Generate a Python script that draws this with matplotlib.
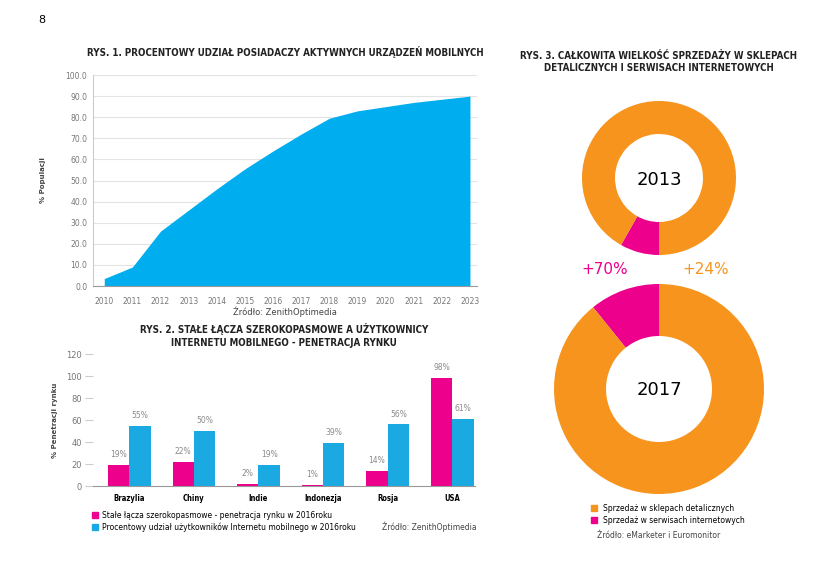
import matplotlib.pyplot as plt
import matplotlib.patches as mpatches

# Rys. 1 - area chart
years = list(range(2010, 2024))
share = [3.5, 9, 26, 36, 46, 55.5, 64, 72, 79.5, 83, 85, 87, 88.5, 90]

# Rys. 2 - grouped bars
countries = ['Brazylia', 'Chiny', 'Indie', 'Indonezja', 'Rosja', 'USA']
fixed = [19, 22, 2, 1, 14, 98]
mobile = [55, 50, 19, 39, 56, 61]
fixed_labels = ['19%', '22%', '2%', '1%', '14%', '98%']
mobile_labels = ['55%', '50%', '19%', '39%', '56%', '61%']

# Rys. 3 - donuts (pink share, orange share)
donut_2013 = [8.2, 91.8]
donut_2017 = [10.8, 89.2]

BLUE = '#00AEEF'
BAR_BLUE = '#1BA9E1'
PINK = '#EC008C'
ORANGE = '#F7941D'
GRAY = '#8a8a8a'
TITLE = dict(fontsize=7, fontweight='bold', fontstretch='condensed', color='#222222')

W, H = 826, 578
fig = plt.figure(figsize=(W / 100, H / 100), dpi=100)

def px_axes(x0, y0, x1, y1):
    # pixel box (top-left origin) -> axes
    return fig.add_axes([x0 / W, 1 - y1 / H, (x1 - x0) / W, (y1 - y0) / H])

fig.text(38 / W, 1 - 20 / H, '8', fontsize=8, va='center')

# ---- area chart
ax1 = px_axes(93, 75, 477, 286)
ax1.fill_between(years, share, color=BLUE, lw=0)
ax1.set_xlim(2009.6, 2023.25)
ax1.set_ylim(0, 100)
ax1.set_yticks(range(0, 101, 10))
ax1.set_yticklabels([f'{v:.1f}' for v in range(0, 101, 10)])
ax1.set_xticks(years)
ax1.grid(axis='y', color='#e3e3e3', lw=0.8)
ax1.set_axisbelow(True)
for s in ['top', 'right']:
    ax1.spines[s].set_visible(False)
ax1.spines['left'].set_color('#cccccc')
ax1.spines['bottom'].set_color('#999999')
ax1.tick_params(length=0, labelsize=5.5, labelcolor='#777777', pad=4)
ax1.tick_params(axis='x', pad=8)
ax1.set_ylabel('% Populacji', fontsize=5, fontweight='bold', color='#444444', labelpad=14)
ax1.set_title('RYS. 1. PROCENTOWY UDZIAŁ POSIADACZY AKTYWNYCH URZĄDZEŃ MOBILNYCH', pad=14, **TITLE)
fig.text(285 / W, 1 - 315 / H, 'Źródło: ZenithOptimedia', fontsize=6, ha='center', color='#444444')

# ---- bar chart
ax2 = px_axes(93, 354, 475, 486)
x = list(range(len(countries)))
bw = 0.33
ax2.bar([i - bw / 2 for i in x], fixed, bw, color=PINK)
ax2.bar([i + bw / 2 for i in x], mobile, bw, color=BAR_BLUE)
for i in x:
    ax2.text(i - bw / 2, fixed[i] + 7, fixed_labels[i], ha='center', fontsize=5.5, color=GRAY)
    ax2.text(i + bw / 2, mobile[i] + 7, mobile_labels[i], ha='center', fontsize=5.5, color=GRAY)
ax2.set_xlim(-0.56, 5.35)
ax2.set_ylim(0, 120)
ax2.set_yticks(range(0, 121, 20))
ax2.set_xticks(x)
ax2.set_xticklabels(countries, fontsize=5.5, fontweight='bold', fontstretch='condensed')
for s in ['top', 'right', 'left']:
    ax2.spines[s].set_visible(False)
ax2.spines['bottom'].set_color('#999999')
ax2.tick_params(axis='y', length=6, color='#cccccc', labelsize=6, labelcolor='#777777', pad=2)
ax2.tick_params(axis='x', length=0, pad=6)
ax2.set_ylabel('% Penetracji rynku', fontsize=5, fontweight='bold', color='#444444', labelpad=6)
ax2.set_title('RYS. 2. STAŁE ŁĄCZA SZEROKOPASMOWE A UŻYTKOWNICY\nINTERNETU MOBILNEGO - PENETRACJA RYNKU',
              pad=6, linespacing=1.3, **TITLE)
h1 = mpatches.Patch(color=PINK, label='Stałe łącza szerokopasmowe - penetracja rynku w 2016roku')
h2 = mpatches.Patch(color=BAR_BLUE, label='Procentowy udział użytkowników Internetu mobilnego w 2016roku')
fig.legend(handles=[h1, h2], loc='upper left', bbox_to_anchor=(88 / W, 1 - 507 / H),
           frameon=False, fontsize=5.5, handlelength=0.8, handleheight=0.8,
           handletextpad=0.5, labelspacing=0.3, borderpad=0)
fig.text(477 / W, 1 - 527 / H, 'Źródło: ZenithOptimedia', fontsize=5.5, ha='right', va='center', color='#444444')

# ---- donuts
ax3 = fig.add_axes([0, 0, 1, 1])
ax3.axis('off')
ax3.pie(donut_2013, colors=[PINK, ORANGE], center=(659, H - 178), radius=77,
        startangle=-90, counterclock=False, wedgeprops=dict(width=33, lw=0))
ax3.pie(donut_2017, colors=[PINK, ORANGE], center=(659, H - 389), radius=105,
        startangle=90, counterclock=True, wedgeprops=dict(width=52, lw=0))
ax3.set_xlim(0, W)
ax3.set_ylim(0, H)
ax3.set_aspect('auto')
ax3.text(659, H - 180, '2013', ha='center', va='center', fontsize=13)
ax3.text(659, H - 390, '2017', ha='center', va='center', fontsize=13)
ax3.text(605, H - 270, '+70%', ha='center', va='center', fontsize=11, color=PINK)
ax3.text(706, H - 270, '+24%', ha='center', va='center', fontsize=11, color=ORANGE)
ax3.text(659, H - 62, 'RYS. 3. CAŁKOWITA WIELKOŚĆ SPRZEDAŻY W SKLEPACH\nDETALICZNYCH I SERWISACH INTERNETOWYCH',
         ha='center', va='center', linespacing=1.3, **TITLE)
h3 = mpatches.Patch(color=ORANGE, label='Sprzedaż w sklepach detalicznych')
h4 = mpatches.Patch(color=PINK, label='Sprzedaż w serwisach internetowych')
fig.legend(handles=[h3, h4], loc='upper left', bbox_to_anchor=(587 / W, 1 - 500 / H),
           frameon=False, fontsize=5.5, handlelength=0.8, handleheight=0.8,
           handletextpad=0.8, labelspacing=0.4, borderpad=0)
ax3.text(659, H - 535, 'Źródło: eMarketer i Euromonitor', ha='center', va='center', fontsize=5.5, color='#444444')

fig.savefig('out.png', dpi=100)
